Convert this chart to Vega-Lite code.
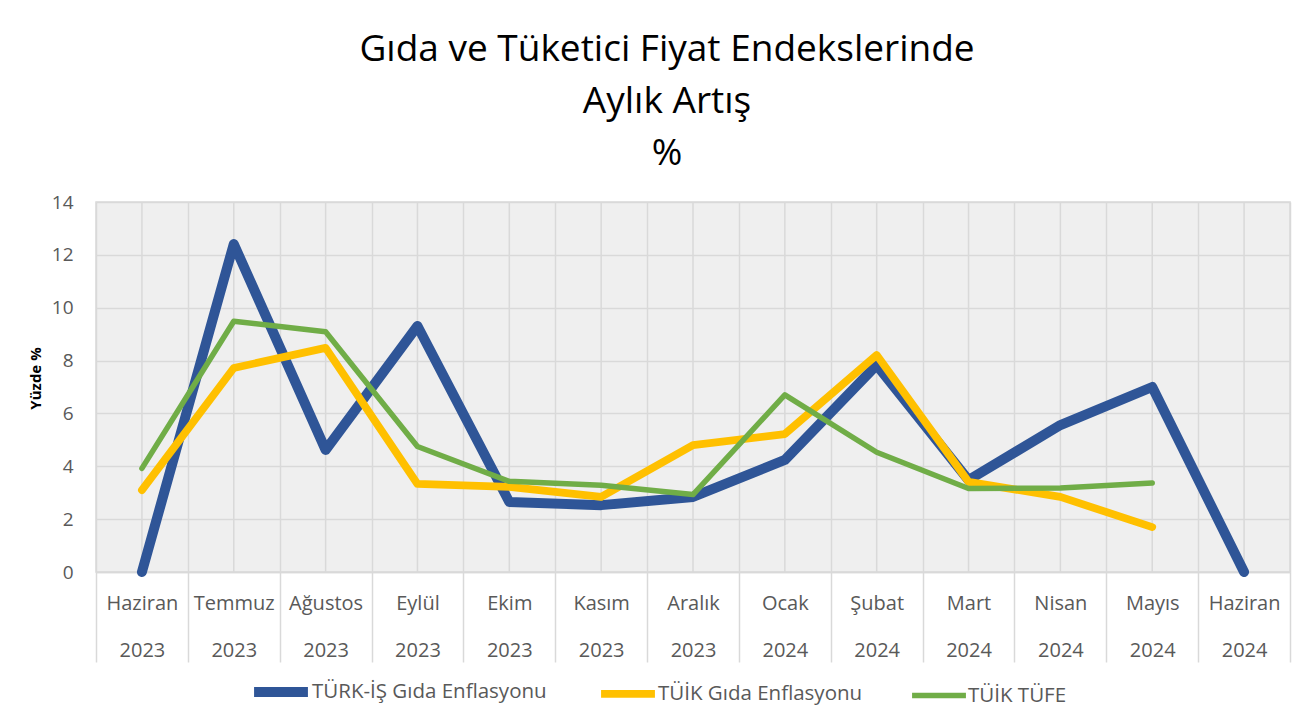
{
  "$schema": "https://vega.github.io/schema/vega-lite/v6.json",
  "width": 1194,
  "height": 370,
  "autosize": "none",
  "padding": {"left": 96, "top": 202, "right": 26, "bottom": 155},
  "background": "white",
  "title": {
    "text": ["Gıda ve Tüketici Fiyat Endekslerinde", "Aylık Artış", "%"],
    "font": "Open Sans",
    "fontSize": 37,
    "fontWeight": "normal",
    "color": "#000000",
    "lineHeight": 52,
    "anchor": "middle",
    "dx": -26,
    "offset": 20
  },
  "config": {
    "font": "Open Sans",
    "view": {"fill": "#efefef", "stroke": "#d9d9d9", "strokeWidth": 1.5}
  },
  "datasets": {
    "months": [
      {"ay": "Haziran|2023"}, {"ay": "Temmuz|2023"}, {"ay": "Ağustos|2023"}, {"ay": "Eylül|2023"},
      {"ay": "Ekim|2023"}, {"ay": "Kasım|2023"}, {"ay": "Aralık|2023"}, {"ay": "Ocak|2024"},
      {"ay": "Şubat|2024"}, {"ay": "Mart|2024"}, {"ay": "Nisan|2024"}, {"ay": "Mayıs|2024"},
      {"ay": "Haziran|2024"}
    ],
    "series": [
      {"ay": "Haziran|2023", "seri": "TÜRK-İŞ Gıda Enflasyonu", "deger": 0},
      {"ay": "Temmuz|2023", "seri": "TÜRK-İŞ Gıda Enflasyonu", "deger": 12.41},
      {"ay": "Ağustos|2023", "seri": "TÜRK-İŞ Gıda Enflasyonu", "deger": 4.62},
      {"ay": "Eylül|2023", "seri": "TÜRK-İŞ Gıda Enflasyonu", "deger": 9.31},
      {"ay": "Ekim|2023", "seri": "TÜRK-İŞ Gıda Enflasyonu", "deger": 2.65},
      {"ay": "Kasım|2023", "seri": "TÜRK-İŞ Gıda Enflasyonu", "deger": 2.53},
      {"ay": "Aralık|2023", "seri": "TÜRK-İŞ Gıda Enflasyonu", "deger": 2.84},
      {"ay": "Ocak|2024", "seri": "TÜRK-İŞ Gıda Enflasyonu", "deger": 4.24},
      {"ay": "Şubat|2024", "seri": "TÜRK-İŞ Gıda Enflasyonu", "deger": 7.83},
      {"ay": "Mart|2024", "seri": "TÜRK-İŞ Gıda Enflasyonu", "deger": 3.48},
      {"ay": "Nisan|2024", "seri": "TÜRK-İŞ Gıda Enflasyonu", "deger": 5.56},
      {"ay": "Mayıs|2024", "seri": "TÜRK-İŞ Gıda Enflasyonu", "deger": 7.0},
      {"ay": "Haziran|2024", "seri": "TÜRK-İŞ Gıda Enflasyonu", "deger": 0},
      {"ay": "Haziran|2023", "seri": "TÜİK Gıda Enflasyonu", "deger": 3.1},
      {"ay": "Temmuz|2023", "seri": "TÜİK Gıda Enflasyonu", "deger": 7.72},
      {"ay": "Ağustos|2023", "seri": "TÜİK Gıda Enflasyonu", "deger": 8.48},
      {"ay": "Eylül|2023", "seri": "TÜİK Gıda Enflasyonu", "deger": 3.33},
      {"ay": "Ekim|2023", "seri": "TÜİK Gıda Enflasyonu", "deger": 3.22},
      {"ay": "Kasım|2023", "seri": "TÜİK Gıda Enflasyonu", "deger": 2.84},
      {"ay": "Aralık|2023", "seri": "TÜİK Gıda Enflasyonu", "deger": 4.8},
      {"ay": "Ocak|2024", "seri": "TÜİK Gıda Enflasyonu", "deger": 5.22},
      {"ay": "Şubat|2024", "seri": "TÜİK Gıda Enflasyonu", "deger": 8.21},
      {"ay": "Mart|2024", "seri": "TÜİK Gıda Enflasyonu", "deger": 3.41},
      {"ay": "Nisan|2024", "seri": "TÜİK Gıda Enflasyonu", "deger": 2.84},
      {"ay": "Mayıs|2024", "seri": "TÜİK Gıda Enflasyonu", "deger": 1.7},
      {"ay": "Haziran|2023", "seri": "TÜİK TÜFE", "deger": 3.92},
      {"ay": "Temmuz|2023", "seri": "TÜİK TÜFE", "deger": 9.49},
      {"ay": "Ağustos|2023", "seri": "TÜİK TÜFE", "deger": 9.09},
      {"ay": "Eylül|2023", "seri": "TÜİK TÜFE", "deger": 4.75},
      {"ay": "Ekim|2023", "seri": "TÜİK TÜFE", "deger": 3.43},
      {"ay": "Kasım|2023", "seri": "TÜİK TÜFE", "deger": 3.28},
      {"ay": "Aralık|2023", "seri": "TÜİK TÜFE", "deger": 2.93},
      {"ay": "Ocak|2024", "seri": "TÜİK TÜFE", "deger": 6.7},
      {"ay": "Şubat|2024", "seri": "TÜİK TÜFE", "deger": 4.53},
      {"ay": "Mart|2024", "seri": "TÜİK TÜFE", "deger": 3.16},
      {"ay": "Nisan|2024", "seri": "TÜİK TÜFE", "deger": 3.18},
      {"ay": "Mayıs|2024", "seri": "TÜİK TÜFE", "deger": 3.37}
    ]
  },
  "layer": [
    {
      "data": {"name": "months"},
      "mark": {"type": "rule", "color": "#d9d9d9", "strokeWidth": 1.5},
      "encoding": {
        "x": {"field": "ay", "type": "nominal", "sort": null, "bandPosition": 0.5, "axis": {"title": null}}
      }
    },
    {
      "data": {"name": "series"},
      "mark": {"type": "line", "strokeCap": "round", "strokeJoin": "round"},
      "encoding": {
        "x": {
          "field": "ay", "type": "nominal", "sort": null, "bandPosition": 0.5,
          "scale": {"type": "band", "paddingInner": 0, "paddingOuter": 0},
          "axis": {
            "title": null, "labelAngle": 0, "labelExpr": "split(datum.label, '|')",
            "labelFont": "Open Sans", "labelFontSize": 20, "labelColor": "#595959",
            "labelAlign": "center",
            "labelLineHeight": 47, "labelBaseline": "top", "labelPadding": -69,
            "tickBand": "extent", "tickSize": 90, "tickColor": "#d9d9d9", "tickWidth": 1.5,
            "domainColor": "#d9d9d9", "domainWidth": 1.5,
            "grid": true, "gridColor": "#d9d9d9", "gridWidth": 1.5
          }
        },
        "y": {
          "field": "deger", "type": "quantitative",
          "scale": {"domain": [0, 14], "nice": false},
          "axis": {
            "title": "Yüzde %", "titleFont": "Open Sans", "titleFontSize": 15, "titleFontWeight": "bold",
            "titleColor": "#000000", "titlePadding": 8, "titleY": 176,
            "values": [0, 2, 4, 6, 8, 10, 12, 14],
            "labelFont": "Open Sans", "labelFontSize": 19, "labelColor": "#595959", "labelPadding": 23,
            "ticks": false, "domain": false,
            "grid": true, "gridColor": "#d9d9d9", "gridWidth": 1.5
          }
        },
        "color": {
          "field": "seri", "type": "nominal",
          "scale": {
            "domain": ["TÜRK-İŞ Gıda Enflasyonu", "TÜİK Gıda Enflasyonu", "TÜİK TÜFE"],
            "range": ["#2F5597", "#FFC000", "#70AD47"]
          },
          "legend": {
            "title": null, "orient": "none", "direction": "horizontal",
            "legendX": 153, "legendY": 458,
            "symbolType": "stroke", "symbolSize": 2900,
            "labelFont": "Open Sans", "labelFontSize": 20.5, "labelColor": "#595959", "labelLimit": 400,
            "labelOffset": -1, "columnPadding": 38
          }
        },
        "strokeWidth": {
          "field": "seri", "type": "nominal",
          "scale": {
            "domain": ["TÜRK-İŞ Gıda Enflasyonu", "TÜİK Gıda Enflasyonu", "TÜİK TÜFE"],
            "range": [10, 5.5, 5]
          },
          "legend": {
            "title": null, "orient": "none", "direction": "horizontal",
            "legendX": 153, "legendY": 458,
            "symbolType": "stroke", "symbolSize": 2900,
            "labelFont": "Open Sans", "labelFontSize": 20.5, "labelColor": "#595959", "labelLimit": 400,
            "labelOffset": -1, "columnPadding": 38
          }
        }
      }
    }
  ]
}
